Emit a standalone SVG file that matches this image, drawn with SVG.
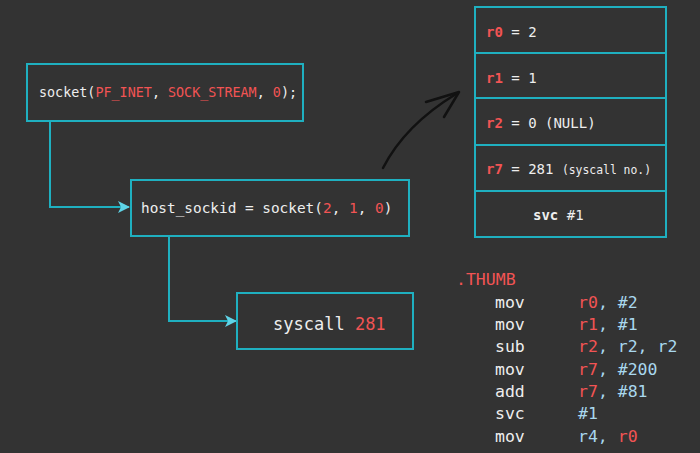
<svg xmlns="http://www.w3.org/2000/svg" width="700" height="453" viewBox="0 0 700 453">
<defs>
<style>
.box{fill:#333333;stroke:#1fb0c0;stroke-width:2}
.t{font-family:"DejaVu Sans Mono","Liberation Mono",monospace;fill:#eeeeee}
.r{fill:#f25454}
.b{fill:#a9d8ee}
.con{fill:none;stroke:#1fb0c0;stroke-width:2}
</style>
<marker id="ah" viewBox="0 0 12 12" refX="11" refY="6" markerWidth="12" markerHeight="12" markerUnits="userSpaceOnUse" orient="auto">
<path d="M0,0 L12,6 L0,12 L3,6 Z" fill="#5fd3e6"/>
</marker>
</defs>
<rect width="700" height="453" fill="#333333"/>
<g id="connectors">
<path class="con" d="M50,121 V207 H129" marker-end="url(#ah)"/>
<path class="con" d="M169,236 V321 H236" marker-end="url(#ah)"/>
<path d="M383,168 Q405,125 456,94" fill="none" stroke="#111" stroke-width="2.5" stroke-linecap="round"/>
<path d="M426,102 L459,92 L444,117" fill="none" stroke="#111" stroke-width="2.5" stroke-linecap="round" stroke-linejoin="round"/>
</g>
<g id="node-socket">
<rect class="box" x="27" y="64" width="276" height="57"/>
<text class="t" x="39" y="97" font-size="13.4">socket(<tspan class="r">PF_INET</tspan>, <tspan class="r">SOCK_STREAM</tspan>, <tspan class="r">0</tspan>);</text>
</g>
<g id="node-host">
<rect class="box" x="131" y="180" width="278" height="56"/>
<text class="t" x="141" y="213" font-size="14.4">host_sockid = socket(<tspan class="r">2</tspan>, <tspan class="r">1</tspan>, <tspan class="r">0</tspan>)</text>
</g>
<g id="node-syscall">
<rect class="box" x="237" y="293" width="176" height="56"/>
<text class="t" x="273" y="330" font-size="17">syscall <tspan class="r">281</tspan></text>
</g>
<g id="node-registers">
<rect class="box" x="475" y="7" width="191" height="46"/>
<rect class="box" x="475" y="53" width="191" height="45"/>
<rect class="box" x="475" y="98" width="191" height="47"/>
<rect class="box" x="475" y="145" width="191" height="46"/>
<rect class="box" x="475" y="191" width="191" height="46"/>
<text class="t" x="486" y="37" font-size="14"><tspan class="r" font-weight="bold">r0</tspan> = 2</text>
<text class="t" x="486" y="83" font-size="14"><tspan class="r" font-weight="bold">r1</tspan> = 1</text>
<text class="t" x="486" y="128" font-size="14"><tspan class="r" font-weight="bold">r2</tspan> = 0 (NULL)</text>
<text class="t" x="486" y="174" font-size="14"><tspan class="r" font-weight="bold">r7</tspan> = 281 <tspan font-size="11.4">(syscall no.)</tspan></text>
<text class="t" x="533" y="220" font-size="14"><tspan font-weight="bold">svc</tspan> #1</text>
</g>
<g id="node-asm" font-size="16.5">
<text class="t r" x="456" y="285">.THUMB</text>
<text class="t" x="495" y="308">mov</text><text class="t" x="578" y="308"><tspan class="r">r0</tspan><tspan class="b">, #2</tspan></text>
<text class="t" x="495" y="330">mov</text><text class="t" x="578" y="330"><tspan class="r">r1</tspan><tspan class="b">, #1</tspan></text>
<text class="t" x="495" y="352">sub</text><text class="t" x="578" y="352"><tspan class="r">r2</tspan><tspan class="b">, r2, r2</tspan></text>
<text class="t" x="495" y="375">mov</text><text class="t" x="578" y="375"><tspan class="r">r7</tspan><tspan class="b">, #200</tspan></text>
<text class="t" x="495" y="397">add</text><text class="t" x="578" y="397"><tspan class="r">r7</tspan><tspan class="b">, #81</tspan></text>
<text class="t" x="495" y="419">svc</text><text class="t b" x="578" y="419">#1</text>
<text class="t" x="495" y="442">mov</text><text class="t" x="578" y="442"><tspan class="b">r4, </tspan><tspan class="r">r0</tspan></text>
</g>
</svg>
